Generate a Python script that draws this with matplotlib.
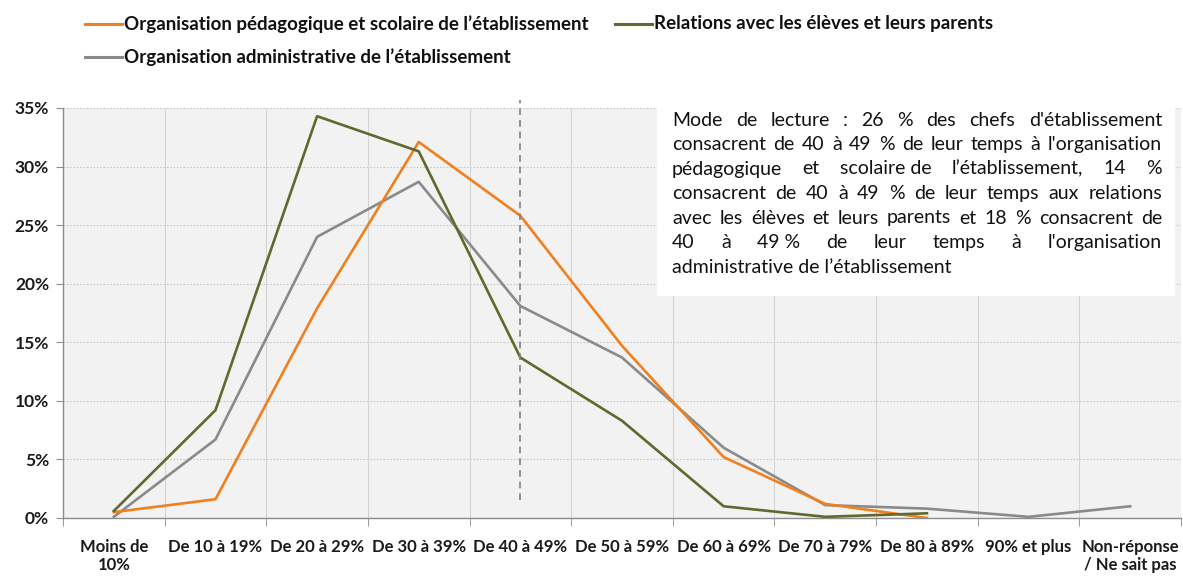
import matplotlib
matplotlib.use("Agg")
import matplotlib.pyplot as plt
from matplotlib.lines import Line2D
import numpy as np

categories = ["Moins de\n10%", "De 10 à 19%", "De 20 à 29%", "De 30 à 39%", "De 40 à 49%",
              "De 50 à 59%", "De 60 à 69%", "De 70 à 79%", "De 80 à 89%", "90% et plus",
              "Non-réponse\n/ Ne sait pas"]
peda = [0.5, 1.6, 17.9, 32.1, 25.8, 14.7, 5.2, 1.2, 0.0]
relations = [0.6, 9.2, 34.3, 31.3, 13.7, 8.3, 1.0, 0.1, 0.4]
admin = [0.1, 6.7, 24.0, 28.7, 18.1, 13.7, 6.0, 1.1, 0.8, 0.1, 1.0]
series_names = ["Organisation pédagogique et scolaire de l’établissement",
                "Relations avec les élèves et leurs parents",
                "Organisation administrative de l’établissement"]
yticks = [0, 5, 10, 15, 20, 25, 30, 35]

note_lines = [
    "Mode de lecture : 26 % des chefs d'établissement",
    "consacrent de 40 à 49 % de leur temps à l'organisation",
    "pédagogique et scolaire\u00a0de l’établissement, 14 %",
    "consacrent de 40 à 49 % de leur temps aux relations",
    "avec les élèves et leurs parents et 18 % consacrent de",
    "40 à 49\u00a0% de leur temps à l'organisation",
    "administrative de l’établissement",
]

FONT = "Lato"
plt.rcParams['font.family'] = [FONT, 'DejaVu Sans']

c_orange = "#F0801F"
c_green = "#5E6A2C"
c_gray = "#8A8A8A"

fig = plt.figure(figsize=(11.83, 5.76), dpi=100)
W, H = 1183, 576
ax = fig.add_axes([63 / W, 1 - 518 / H, (1181 - 63) / W, (518 - 108) / H])
ax.set_facecolor("#F2F2F2")

x = np.arange(len(categories))
ax.plot(x[:len(peda)], peda, color=c_orange, lw=1.9, zorder=4)
ax.plot(x[:len(relations)], relations, color=c_green, lw=1.9, zorder=5)
ax.plot(x[:len(admin)], admin, color=c_gray, lw=1.9, zorder=3)

ax.set_xlim(-0.5, len(categories) - 0.5)
ax.set_ylim(0, 35)

# grid
for yv in yticks[1:]:
    ax.axhline(yv, color="#C8C8C8", lw=0.8, ls=(0, (1.5, 1.5)), zorder=1)
for b in np.arange(-0.5, len(categories), 1.0)[1:-1]:
    ax.axvline(b, color="#D4D4D4", lw=0.8, zorder=1)

# dashed reference line at 40-49%
ax.axvline(4, ymin=1.5 / 35, ymax=35.7 / 35, color="#808080", lw=1.2,
           ls=(0, (4, 3)), clip_on=False, zorder=6)

for s in ["top", "right"]:
    ax.spines[s].set_visible(False)
for s in ["left", "bottom"]:
    ax.spines[s].set_color("#8C8C8C")
    ax.spines[s].set_linewidth(1.0)

ax.set_yticks(yticks)
ax.set_yticklabels([f"{v}%" for v in yticks], fontsize=12.5, fontweight="bold", color="#1a1a1a")
ax.tick_params(axis="y", length=5, color="#8C8C8C", pad=5)

ax.set_xticks(x)
ax.set_xticklabels(categories, fontsize=12, fontweight="bold", color="#1a1a1a",
                   linespacing=1.2)
ax.tick_params(axis="x", length=0, pad=15)
ax.set_xticks(np.arange(-0.5, len(categories), 1.0), minor=True)
ax.tick_params(axis="x", which="minor", length=6, color="#8C8C8C")

# legend (manual)
leg = [(85, 24, c_orange, series_names[0]),
       (615, 24, c_green, series_names[1]),
       (85, 57, c_gray, series_names[2])]
for lx, ly, col, name in leg:
    fig.add_artist(Line2D([lx / W, (lx + 37) / W], [1 - ly / H, 1 - ly / H],
                          color=col, lw=2.2, transform=fig.transFigure))
    fig.text((lx + 39) / W, 1 - ly / H, name, fontsize=13.5, fontweight="bold",
             ha="left", va="center", color="#111111")

# annotation box
box_l, box_r, box_t, box_b = 657, 1175, 100, 296
fig.patches.append(matplotlib.patches.Rectangle(
    (box_l / W, 1 - box_b / H), (box_r - box_l) / W, (box_b - box_t) / H,
    transform=fig.transFigure, facecolor="white", edgecolor="none", zorder=10))

fig.canvas.draw()
renderer = fig.canvas.get_renderer()
tx_l, tx_r = 672, 1162
y0, dy = 120, 24.5
fs = 14
for i, line in enumerate(note_lines):
    ypix = y0 + i * dy
    words = line.split(" ")
    if i == len(note_lines) - 1 or len(words) == 1:
        fig.text(tx_l / W, 1 - ypix / H, line, fontsize=fs, ha="left", va="center",
                 color="#111111", zorder=11)
        continue
    texts = [fig.text(0, 1 - ypix / H, w, fontsize=fs, ha="left", va="center",
                      color="#111111", zorder=11) for w in words]
    widths = [t.get_window_extent(renderer).width for t in texts]
    gap = ((tx_r - tx_l) - sum(widths)) / (len(words) - 1)
    xp = tx_l
    for t, wd in zip(texts, widths):
        t.set_x(xp / W)
        xp += wd + gap

fig.savefig("out.png", dpi=100)
